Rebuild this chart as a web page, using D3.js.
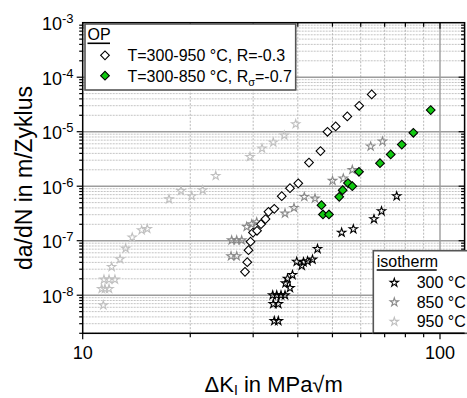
<!DOCTYPE html>
<html><head><meta charset="utf-8">
<script src="https://cdn.jsdelivr.net/npm/d3@7"></script>
<style>body{margin:0;background:#fff} svg{display:block} text{font-family:"Liberation Sans",Arial,sans-serif;fill:#000}</style>
</head><body><svg id="c" width="467" height="398"></svg>
<script>
// ---- data (ΔK in MPa√m, da/dN in m/Zyklus) ----
const iso950_dK   = [11.42,11.30,11.54,11.85,11.47,11.85,12.31,12.05,12.72,13.19,13.76,14.62,15.16,17.44,18.84,20.19,21.67,23.57,29.39,31.76,34.15,36.66,39.46];
const iso950_dadN = [6.55e-9,1.31e-8,1.31e-8,1.31e-8,1.94e-8,1.94e-8,1.94e-8,3.31e-8,4.58e-8,7.20e-8,1.15e-7,1.56e-7,1.65e-7,5.79e-7,8.23e-7,6.57e-7,8.47e-7,1.55e-6,3.46e-6,4.94e-6,6.37e-6,8.56e-6,1.38e-5];
const iso850_dK   = [26.01,26.98,26.12,26.98,27.86,28.77,29.72,30.69,36.83,39.03,41.71,44.68,50.03,53.62,56.83,63.97,69.04];
const iso850_dadN = [5.20e-8,5.20e-8,1.02e-7,1.02e-7,1.02e-7,1.80e-7,2.01e-7,2.19e-7,3.16e-7,4.01e-7,6.38e-7,5.96e-7,1.26e-6,1.39e-6,2.00e-6,5.38e-6,6.64e-6];
const iso300_dK   = [34.37,35.27,34.15,35.27,34.02,34.91,35.89,36.83,38.03,36.95,37.43,38.65,39.72,41.02,41.50,42.58,43.97,45.41,53.06,57.20,65.35,68.60,75.64];
const iso300_dadN = [3.37e-9,3.37e-9,6.92e-9,6.92e-9,1.0e-8,1.0e-8,1.0e-8,1.0e-8,1.36e-8,1.66e-8,2.01e-8,2.36e-8,4.12e-8,3.48e-8,4.04e-8,4.21e-8,4.52e-8,7.08e-8,1.41e-7,1.63e-7,2.49e-7,3.49e-7,6.57e-7];
const op950_dK    = [28.46,28.88,29.11,29.49,29.97,30.75,31.55,32.48,33.11,34.37,36.06,38.03,40.12,42.99,46.29,48.43,51.05,55.03,59.41,64.39];
const op950_dadN  = [2.68e-8,4.04e-8,6.70e-8,9.60e-8,1.41e-7,1.52e-7,2.01e-7,2.49e-7,3.39e-7,3.84e-7,6.57e-7,9.22e-7,1.13e-6,2.71e-6,4.41e-6,9.97e-6,1.25e-5,1.91e-5,2.99e-5,4.84e-5];
const op850_dK    = [46.59,47.04,48.89,52.23,53.41,55.27,56.83,59.33,67.93,72.78,78.17,84.22,94.19];
const op850_dadN  = [4.49e-7,3.03e-7,3.03e-7,6.38e-7,8.47e-7,1.14e-6,1.00e-6,1.84e-6,2.65e-6,3.83e-6,5.80e-6,9.55e-6,2.49e-5];

const xTickLabels = [10, 100];
const yTickExps = [-3,-4,-5,-6,-7,-8];
const xTitle = "ΔK";
const yTitle = "da/dN in m/Zyklus";
const opTitle = "OP";
const opLabels = ["T=300-950 °C, R=-0.3", "T=300-850 °C, R"];
const isoTitle = "isotherm";
const isoLabels = ["300 °C", "850 °C", "950 °C"];

// ---- layout ----
const L = 82.7, R = 464.6, T = 22.7, B = 333.3;
const x = d3.scaleLog().domain([10, 117]).range([L, L + 357.3*Math.log10(11.7)]);
const y = d3.scaleLog().domain([2e-9, 1e-3]).range([B, T]);
const svg = d3.select("#c");

// minor & major gridlines
const yMinor = [], yMajor = [];
for (let e = -9; e <= -4; e++) for (let m = 1; m <= 9; m++) {
  const v = m * Math.pow(10, e);
  if (v < 2e-9 || v > 1e-3) continue;
  if (m === 1) yMajor.push(v); else yMinor.push(v);
}
const xMinor = [20,30,40,50,60,70,80,90];
const g = svg.append("g");
g.selectAll(".ymin").data(yMinor).join("line")
  .attr("x1", L).attr("x2", R).attr("y1", d => y(d)).attr("y2", d => y(d))
  .attr("stroke", "#c4c4c4").attr("stroke-width", 1).attr("stroke-dasharray", "2,1");
g.selectAll(".xmin").data(xMinor).join("line")
  .attr("y1", T).attr("y2", B).attr("x1", d => x(d)).attr("x2", d => x(d))
  .attr("stroke", "#b8b8b8").attr("stroke-width", 1).attr("stroke-dasharray", "2,1.5");
g.selectAll(".ymaj").data(yMajor.filter(v => v > 2e-9 && v < 1e-3)).join("line")
  .attr("x1", L).attr("x2", R).attr("y1", d => y(d)).attr("y2", d => y(d))
  .attr("stroke", "#9c9c9c").attr("stroke-width", 1.4);
g.append("line").attr("x1", x(100)).attr("x2", x(100)).attr("y1", T).attr("y2", B)
  .attr("stroke", "#9c9c9c").attr("stroke-width", 1.4);

// markers
const star = d3.symbol().type(d3.symbolStar).size(22);
const diamond = d3.symbol().type(d3.symbolSquare).size(38);
function stars(dk, dn, col) {
  svg.append("g").selectAll("path").data(d3.zip(dk, dn)).join("path")
    .attr("d", star).attr("transform", d => `translate(${x(d[0])},${y(d[1])})`)
    .attr("fill", "none").attr("stroke", col).attr("stroke-width", 1.1);
}
function diamonds(dk, dn, fill) {
  svg.append("g").selectAll("path").data(d3.zip(dk, dn)).join("path")
    .attr("d", diamond).attr("transform", d => `translate(${x(d[0])},${y(d[1])}) rotate(45)`)
    .attr("fill", fill).attr("stroke", "#000").attr("stroke-width", 1.1);
}
stars(iso950_dK, iso950_dadN, "#c0c0c0");
stars(iso850_dK, iso850_dadN, "#8a8a8a");
stars(iso300_dK, iso300_dadN, "#000");
diamonds(op950_dK, op950_dadN, "#fff");
diamonds(op850_dK, op850_dadN, "#10c810");

// frame
svg.append("rect").attr("x", L).attr("y", T).attr("width", R - L).attr("height", B - T)
  .attr("fill", "none").attr("stroke", "#000").attr("stroke-width", 1.5);

// ticks
const ax = svg.append("g").attr("stroke", "#000").attr("stroke-width", 1.2);
[10, ...xMinor, 100].forEach(v => {
  const len = (v === 10 || v === 100) ? 6 : 4;
  ax.append("line").attr("x1", x(v)).attr("x2", x(v)).attr("y1", B).attr("y2", B + len);
  ax.append("line").attr("x1", x(v)).attr("x2", x(v)).attr("y1", T).attr("y2", T + len);
});
[...yMajor, ...yMinor].forEach(v => {
  const len = yMajor.includes(v) ? 6 : 3.5;
  ax.append("line").attr("x1", L - len).attr("x2", L).attr("y1", y(v)).attr("y2", y(v));
  ax.append("line").attr("x1", R - len).attr("x2", R).attr("y1", y(v)).attr("y2", y(v));
});

// legends
const lg1 = svg.append("g");
lg1.append("rect").attr("x", 85).attr("y", 24).attr("width", 210.7).attr("height", 66)
  .attr("fill", "#fff").attr("stroke", "#555").attr("stroke-width", 1.6);
lg1.append("text").attr("x", 87.5).attr("y", 39.5).attr("font-size", 16).text(opTitle);
lg1.append("line").attr("x1", 87.5).attr("x2", 110).attr("y1", 43.3).attr("y2", 43.3).attr("stroke", "#000").attr("stroke-width", 1.6);
lg1.append("path").attr("d", diamond).attr("transform", "translate(105,55.3) rotate(45)").attr("fill", "#fff").attr("stroke", "#000").attr("stroke-width", 1.1);
lg1.append("path").attr("d", diamond).attr("transform", "translate(105,75.7) rotate(45)").attr("fill", "#10c810").attr("stroke", "#000").attr("stroke-width", 1.1);
lg1.append("text").attr("x", 127.5).attr("y", 61).attr("font-size", 16).text(opLabels[0]);
const t2 = lg1.append("text").attr("x", 127.5).attr("y", 81.5).attr("font-size", 16);
t2.append("tspan").text(opLabels[1]);
t2.append("tspan").attr("font-size", 11).attr("dy", 4).text("σ");
t2.append("tspan").attr("dy", -4).text("=-0.7");

const lg2 = svg.append("g");
lg2.append("rect").attr("x", 373.3).attr("y", 250.7).attr("width", R - 373.3 + 4).attr("height", B - 250.7)
  .attr("fill", "#fff").attr("stroke", "#555").attr("stroke-width", 1.6);
lg2.append("text").attr("x", 376.7).attr("y", 266.5).attr("font-size", 16).text(isoTitle);
lg2.append("line").attr("x1", 376.7).attr("x2", 436.7).attr("y1", 270).attr("y2", 270).attr("stroke", "#000").attr("stroke-width", 1.6);
const isoCols = ["#000", "#8a8a8a", "#c0c0c0"];
isoLabels.forEach((lab, i) => {
  const yy = 282.7 + i * 19.5;
  lg2.append("path").attr("d", star).attr("transform", `translate(394.3,${yy})`).attr("fill", "none").attr("stroke", isoCols[i]).attr("stroke-width", 1.1);
  lg2.append("text").attr("x", 416.7).attr("y", yy + 5.5).attr("font-size", 16).text(lab);
});
// bottom axis line stays on top of legend box
svg.append("line").attr("x1", 373.3).attr("x2", R).attr("y1", B).attr("y2", B).attr("stroke", "#000").attr("stroke-width", 1.5);

// tick labels
svg.selectAll(".xl").data(xTickLabels).join("text")
  .attr("x", d => x(d)).attr("y", 359.3).attr("text-anchor", "middle").attr("font-size", 18).text(d => d);
yTickExps.forEach(e => {
  const t = svg.append("text").attr("x", 73.5).attr("y", y(Math.pow(10, e)) + 7.4).attr("text-anchor", "end").attr("font-size", 18);
  t.append("tspan").text("10");
  t.append("tspan").attr("font-size", 13).attr("dy", -7).text(String(e));
});

// axis titles
const xt = svg.append("text").attr("x", (L + R) / 2).attr("y", 392).attr("text-anchor", "middle").attr("font-size", 22);
xt.append("tspan").text(xTitle);
xt.append("tspan").attr("font-size", 14).attr("dy", 3).text("I");
xt.append("tspan").attr("dy", -3).text(" in MPa√m");
svg.append("text").attr("transform", `translate(32,${(T + B) / 2}) rotate(-90)`)
  .attr("text-anchor", "middle").attr("font-size", 23).text(yTitle);
</script></body></html>
